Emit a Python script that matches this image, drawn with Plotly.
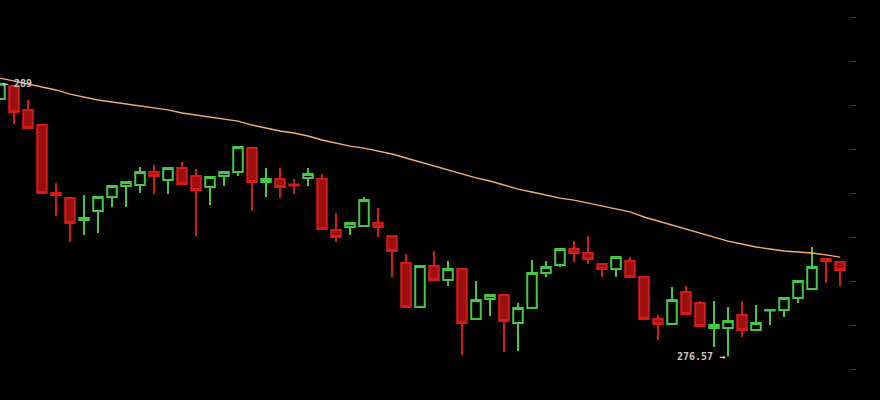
import plotly.graph_objects as go

idx = list(range(61))
opens = [288.31, 288.90, 287.81, 287.12, 284.02, 283.79, 282.79, 283.20, 283.84, 284.34,
         284.39, 284.98, 284.61, 285.16, 284.80, 284.30, 284.80, 284.98, 286.07, 284.52,
         284.66, 284.41, 284.71, 284.66, 282.34, 282.47, 282.52, 282.65, 282.06, 280.83,
         278.83, 280.69, 280.06, 280.56, 278.28, 279.19, 279.37, 278.10, 278.78, 280.38,
         280.74, 281.47, 281.29, 280.79, 280.56, 280.92, 280.19, 278.28, 278.05, 279.51,
         279.01, 277.87, 277.87, 278.46, 277.78, 278.67, 278.69, 279.24, 279.65, 281.01,
         280.88]
highs = [289.00, 288.90, 288.26, 287.12, 284.48, 283.79, 283.93, 283.84, 284.34, 284.57,
         285.21, 285.30, 285.21, 285.44, 285.12, 284.80, 284.98, 286.16, 286.07, 285.16,
         285.16, 284.66, 285.16, 284.89, 283.11, 282.70, 283.84, 283.34, 282.06, 281.24,
         280.69, 281.38, 280.92, 280.56, 280.01, 279.37, 279.42, 279.01, 280.97, 280.92,
         281.47, 281.83, 282.06, 280.79, 281.10, 281.10, 280.19, 278.46, 279.74, 279.78,
         279.10, 279.10, 278.83, 279.10, 278.92, 278.69, 279.28, 280.01, 281.56, 281.06,
         280.92]
lows = [288.26, 287.17, 286.94, 283.98, 282.97, 281.79, 282.11, 282.20, 283.38, 283.38,
        284.02, 283.98, 283.98, 284.43, 282.06, 283.48, 284.34, 284.80, 283.20, 283.84,
        283.79, 283.98, 284.34, 282.38, 281.79, 282.11, 282.52, 282.02, 280.19, 278.83,
        278.83, 280.01, 279.78, 276.64, 278.28, 278.42, 276.77, 276.82, 278.78, 280.19,
        280.65, 280.88, 280.79, 280.19, 280.19, 280.19, 278.28, 277.32, 278.01, 278.51,
        277.91, 277.00, 276.57, 277.46, 277.78, 278.01, 278.37, 279.01, 279.65, 279.92,
        279.78]
closes = [289.00, 287.71, 286.98, 284.02, 283.93, 282.65, 282.88, 283.84, 284.34, 284.52,
          284.98, 284.80, 285.16, 284.43, 284.16, 284.75, 284.98, 286.12, 284.52, 284.66,
          284.30, 284.36, 284.89, 282.38, 282.02, 282.65, 283.70, 282.47, 281.38, 278.83,
          280.69, 280.06, 280.56, 278.10, 279.15, 279.37, 278.19, 278.78, 280.38, 280.65,
          281.47, 281.29, 281.01, 280.56, 281.10, 280.19, 278.28, 278.05, 279.15, 278.51,
          277.96, 278.01, 278.19, 277.78, 278.10, 278.69, 279.24, 280.01, 280.65, 280.92,
          280.51]
ma = [289.26, 289.13, 288.99, 288.85, 288.72, 288.53, 288.40, 288.26, 288.17, 288.08,
      287.99, 287.90, 287.81, 287.67, 287.58, 287.49, 287.40, 287.30, 287.12, 286.98,
      286.85, 286.76, 286.62, 286.44, 286.30, 286.16, 286.07, 285.94, 285.80, 285.62,
      285.44, 285.25, 285.07, 284.89, 284.71, 284.57, 284.39, 284.20, 284.07, 283.93,
      283.79, 283.70, 283.57, 283.43, 283.29, 283.16, 282.93, 282.75, 282.56, 282.38,
      282.20, 282.02, 281.83, 281.70, 281.56, 281.47, 281.38, 281.33, 281.29, 281.20,
      281.10]
tick_vals = [276, 278, 280, 282, 284, 286, 288, 290, 292]
max_label = "← 289"
min_label = "276.57 →"

fig = go.Figure()
fig.add_trace(go.Candlestick(
    x=idx, open=opens, high=highs, low=lows, close=closes,
    increasing=dict(line=dict(color="#46c846", width=2), fillcolor="#000000"),
    decreasing=dict(line=dict(color="#d41a1a", width=2), fillcolor="#9c1010"),
    whiskerwidth=0, hoverinfo="skip", showlegend=False,
))
fig.add_trace(go.Scatter(
    x=idx, y=ma, mode="lines", line=dict(color="#f7ae6a", width=1.4),
    hoverinfo="skip", showlegend=False,
))

imax = highs.index(max(highs))
imin = lows.index(min(lows))
fig.add_annotation(x=idx[imax], y=highs[imax], text="<b>" + max_label + "</b>", showarrow=False,
                   xanchor="left", yanchor="middle", xshift=0,
                   font=dict(family="DejaVu Sans Mono", size=10, color="#c8c8c8"))
fig.add_annotation(x=idx[imin], y=lows[imin], text="<b>" + min_label + "</b>", showarrow=False,
                   xanchor="right", yanchor="middle", xshift=-1,
                   font=dict(family="DejaVu Sans Mono", size=10, color="#c8c8c8"))

fig.update_layout(
    width=880, height=400,
    margin=dict(l=0, r=31, t=0, b=0),
    paper_bgcolor="#000000", plot_bgcolor="#000000",
    boxgap=0.15, boxgroupgap=0.2,
    xaxis=dict(range=[0, 60.643], visible=False, rangeslider=dict(visible=False),
               showgrid=False, zeroline=False),
    yaxis=dict(range=[274.587, 292.82], side="right", showgrid=False, zeroline=False,
               showline=False, ticks="outside", ticklen=6, tickwidth=1, tickcolor="#444444",
               tickvals=tick_vals, showticklabels=False),
    showlegend=False,
)
fig.write_html("out.html", config={"displayModeBar": False},
               post_script="document.body.style.margin='0';document.body.style.background='#000';")
